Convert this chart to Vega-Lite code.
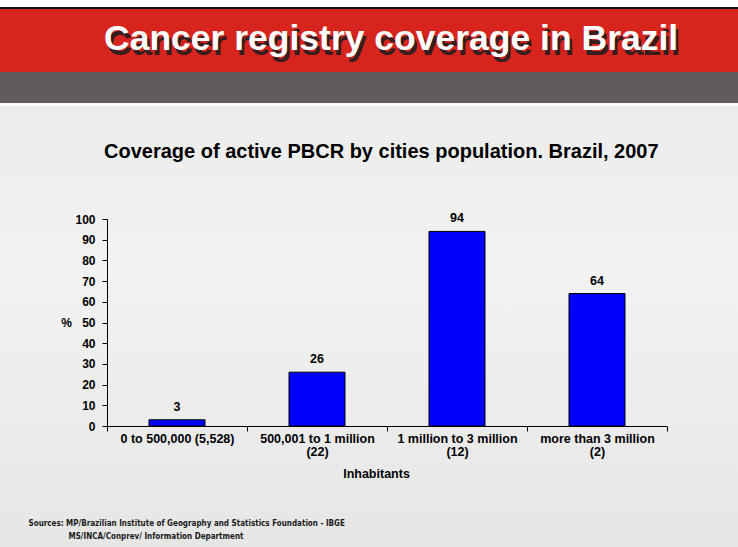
{
  "$schema": "https://vega.github.io/schema/vega-lite/v6.json",
  "width": 738,
  "height": 547,
  "autosize": {"type": "none"},
  "padding": 0,
  "background": "#ffffff",
  "config": {
    "font": "Liberation Sans",
    "view": {
      "stroke": null,
      "fill": {
        "gradient": "linear",
        "x1": 0, "y1": 0, "x2": 0, "y2": 1,
        "stops": [
          {"offset": 0, "color": "#ffffff"},
          {"offset": 0.0128, "color": "#ffffff"},
          {"offset": 0.0129, "color": "#111111"},
          {"offset": 0.0164, "color": "#111111"},
          {"offset": 0.0165, "color": "#d7241d"},
          {"offset": 0.1316, "color": "#d7241d"},
          {"offset": 0.1317, "color": "#5f5c5b"},
          {"offset": 0.1883, "color": "#5f5c5b"},
          {"offset": 0.1884, "color": "#fafafa"},
          {"offset": 0.1937, "color": "#fafafa"},
          {"offset": 0.1938, "color": "#ececec"},
          {"offset": 0.5, "color": "#f2f2f2"},
          {"offset": 1, "color": "#e6e6e6"}
        ]
      }
    }
  },
  "title": {
    "text": "Cancer registry coverage in Brazil",
    "subtitle": "Coverage of active PBCR by cities population. Brazil, 2007",
    "anchor": "start",
    "frame": "group",
    "dx": 104,
    "offset": -162,
    "font": "Liberation Sans",
    "fontSize": 35.5,
    "fontWeight": "bold",
    "color": "#ffffff",
    "subtitleFont": "Liberation Sans",
    "subtitleFontSize": 20,
    "subtitleFontWeight": "bold",
    "subtitleColor": "#000000",
    "subtitlePadding": 85
  },
  "data": {
    "values": [
      {"range": "0 to 500,000 (5,528)", "count": " ", "coverage": 3},
      {"range": "500,001 to 1 million", "count": "(22)", "coverage": 26},
      {"range": "1 million to 3 million", "count": "(12)", "coverage": 94},
      {"range": "more than 3 million", "count": "(2)", "coverage": 64}
    ]
  },
  "layer": [
    {
      "mark": {"type": "bar", "color": "#0000ff", "stroke": "#000000", "strokeWidth": 1, "width": {"band": 0.4}},
      "encoding": {
        "x": {
          "field": "range", "type": "nominal", "sort": null,
          "scale": {"range": [107, 667], "paddingInner": 0, "paddingOuter": 0},
          "axis": {
            "orient": "bottom", "offset": -121,
            "title": "Inhabitants", "titleX": 376, "titleY": 47,
            "titleAlign": "center", "titleBaseline": "middle",
            "titleFontSize": 12.5, "titleFontWeight": "bold", "titleColor": "#000000",
            "labelAngle": 0, "labelAlign": "center", "labelBaseline": "top",
            "labelFontSize": 12.5, "labelFontWeight": "bold", "labelColor": "#000000",
            "labelPadding": 1, "labelLimit": 300,
            "tickBand": "extent", "tickSize": 5, "tickColor": "#000000",
            "domainColor": "#000000", "grid": false
          }
        },
        "y": {
          "field": "coverage", "type": "quantitative",
          "scale": {"domain": [0, 100], "range": [426, 219], "nice": false},
          "axis": {
            "orient": "left", "offset": -107,
            "values": [0, 10, 20, 30, 40, 50, 60, 70, 80, 90, 100],
            "title": "%", "titleAngle": 0, "titleX": -41, "titleY": 322,
            "titleAlign": "center", "titleBaseline": "middle",
            "titleFontSize": 12, "titleFontWeight": "bold", "titleColor": "#000000",
            "labelFontSize": 12, "labelFontWeight": "bold", "labelColor": "#000000",
            "labelPadding": 7, "tickSize": 5, "tickColor": "#000000",
            "domainColor": "#000000", "grid": false
          }
        }
      }
    },
    {
      "mark": {"type": "text", "dy": -13, "fontSize": 12.5, "fontWeight": "bold", "color": "#000000", "baseline": "middle"},
      "encoding": {
        "x": {
          "field": "count", "type": "nominal", "sort": null,
          "scale": {"range": [107, 667], "paddingInner": 0, "paddingOuter": 0},
          "axis": {
            "orient": "bottom", "offset": -121,
            "ticks": false, "tickSize": 0, "domain": false, "grid": false,
            "labelAngle": 0, "labelAlign": "center", "labelBaseline": "top",
            "labelFontSize": 12.5, "labelFontWeight": "bold", "labelColor": "#000000",
            "labelPadding": 19,
            "title": "MS/INCA/Conprev/ Information Department",
            "titleX": 68, "titleY": 110, "titleAlign": "left", "titleBaseline": "middle",
            "titleFont": "Liberation Sans Narrow, Arial Narrow, DejaVu Sans Condensed, Liberation Sans",
            "titleFontSize": 8, "titleFontWeight": "bold", "titleColor": "#1a1a1a", "titleLimit": 1000
          }
        },
        "y": {
          "field": "coverage", "type": "quantitative",
          "axis": {
            "orient": "right", "labels": false, "ticks": false, "domain": false, "grid": false,
            "title": "Cancer registry coverage in Brazil",
            "titleAngle": 0, "titleX": -632, "titleY": 54.5, "titleAlign": "left", "titleBaseline": "alphabetic",
            "titleFont": "Liberation Sans", "titleFontSize": 35.5, "titleFontWeight": "bold",
            "titleColor": "#1e1e1e", "titleOpacity": 0.9, "titleLimit": 1000
          }
        },
        "text": {"field": "coverage", "type": "quantitative"}
      }
    },
    {
      "mark": {"type": "text"},
      "encoding": {
        "x": {
          "field": "range", "type": "nominal", "sort": null,
          "scale": {"range": [107, 667], "paddingInner": 0, "paddingOuter": 0},
          "axis": {
            "orient": "top", "labels": false, "ticks": false, "domain": false, "grid": false,
            "title": "Sources: MP/Brazilian Institute of Geography and Statistics Foundation  - IBGE",
            "titleX": 28, "titleY": 523, "titleAlign": "left", "titleBaseline": "middle",
            "titleFont": "Liberation Sans Narrow, Arial Narrow, DejaVu Sans Condensed, Liberation Sans",
            "titleFontSize": 8, "titleFontWeight": "bold", "titleColor": "#1a1a1a", "titleLimit": 1000
          }
        },
        "y": {"field": "coverage", "type": "quantitative", "axis": null},
        "text": {"value": ""}
      }
    }
  ],
  "resolve": {
    "scale": {"x": "independent"},
    "axis": {"x": "independent", "y": "independent"}
  }
}
